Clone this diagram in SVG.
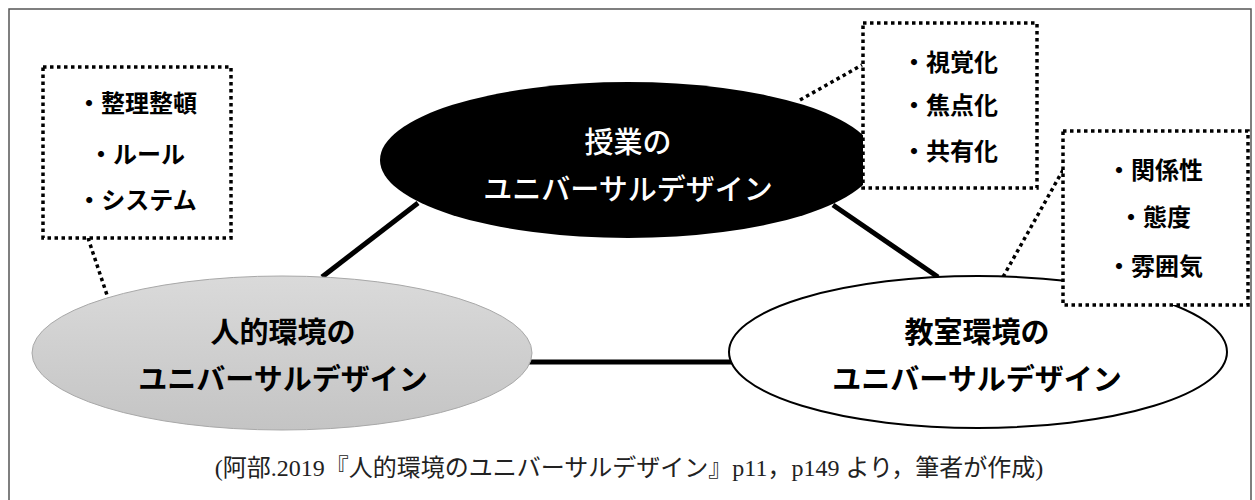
<svg xmlns="http://www.w3.org/2000/svg" width="1255" height="500" viewBox="0 0 1255 500">
<style>
.frame{fill:#fff;stroke:#555;stroke-width:1.5}
.solid{stroke:#000;stroke-width:5;fill:none}
.leader{stroke:#000;stroke-width:3.5;stroke-dasharray:3.5 3.5;fill:none}
.box{fill:#fff;stroke:#000;stroke-width:3.5;stroke-dasharray:3.5 3.5}
.lbl{font-family:'Noto Sans CJK JP',sans-serif;font-size:29px;font-weight:700;text-anchor:middle;fill:#000}
.lblw{font-family:'Noto Sans CJK JP',sans-serif;font-size:29px;font-weight:500;text-anchor:middle;fill:#fff}
.item{font-family:'Noto Sans CJK JP',sans-serif;font-size:24px;font-weight:700;text-anchor:middle;fill:#000}
.cap{font-family:'Liberation Serif','Noto Sans CJK JP',serif;font-size:24px;text-anchor:middle;fill:#222}
</style>
<defs>
<linearGradient id="gray" x1="0" y1="0" x2="0" y2="1">
<stop offset="0" stop-color="#dadada"/>
<stop offset="1" stop-color="#c4c4c4"/>
</linearGradient>
</defs>
<rect class="frame" x="9" y="9" width="1242" height="500"/>
<g id="connectors">
<line class="solid" x1="418" y1="203" x2="322" y2="277"/>
<line class="solid" x1="833" y1="205" x2="938" y2="277"/>
<line class="solid" x1="525" y1="362" x2="733" y2="362"/>
<line class="leader" x1="88" y1="238" x2="108" y2="298"/>
<line class="leader" x1="800" y1="100" x2="862" y2="65"/>
<line class="leader" x1="1063" y1="170" x2="1003" y2="277"/>
</g>
<g id="node-lesson">
<ellipse cx="628" cy="160" rx="248" ry="78" fill="#000"/>
<text class="lblw" x="628" y="153">授業の</text>
<text class="lblw" x="628" y="200">ユニバーサルデザイン</text>
</g>
<g id="node-human">
<ellipse cx="282" cy="353" rx="250" ry="77" fill="url(#gray)" stroke="#a8a8a8" stroke-width="1"/>
<text class="lbl" x="283" y="343">人的環境の</text>
<text class="lbl" x="283" y="390">ユニバーサルデザイン</text>
</g>
<g id="node-classroom">
<ellipse cx="978" cy="352" rx="249" ry="76" fill="#fff" stroke="#000" stroke-width="2"/>
<text class="lbl" x="977" y="343">教室環境の</text>
<text class="lbl" x="977" y="390">ユニバーサルデザイン</text>
</g>
<g id="box-human">
<rect class="box" x="43" y="67" width="188" height="171"/>
<text class="item" x="137" y="112">・整理整頓</text>
<text class="item" x="137" y="163">・ルール</text>
<text class="item" x="137" y="209">・システム</text>
</g>
<g id="box-lesson">
<rect class="box" x="863" y="23" width="174" height="165"/>
<text class="item" x="950" y="71">・視覚化</text>
<text class="item" x="950" y="114">・焦点化</text>
<text class="item" x="950" y="160">・共有化</text>
</g>
<g id="box-classroom">
<rect class="box" x="1063" y="131" width="185" height="174"/>
<text class="item" x="1155" y="179">・関係性</text>
<text class="item" x="1155" y="226">・態度</text>
<text class="item" x="1155" y="275">・雰囲気</text>
</g>
<text class="cap" x="629" y="476">(阿部.2019『人的環境のユニバーサルデザイン』p11，p149 より，筆者が作成)</text>
</svg>
